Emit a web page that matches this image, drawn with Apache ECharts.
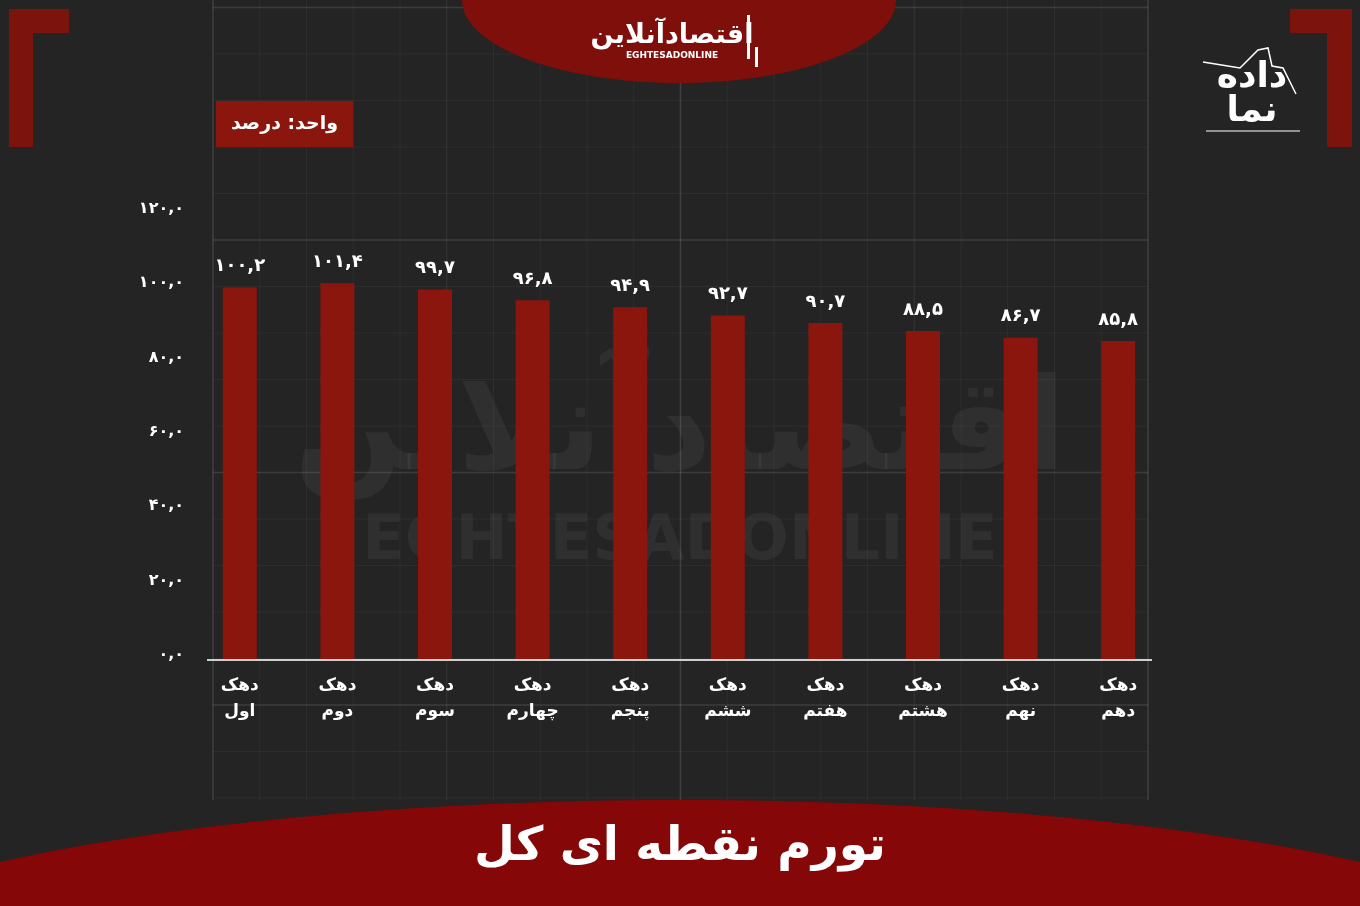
<!DOCTYPE html>
<html>
<head>
<meta charset="utf-8">
<script src="https://cdn.jsdelivr.net/npm/echarts@6/dist/echarts.min.js"></script>
<style>
html,body{margin:0;padding:0;background:#242424;}
#chart{width:1360px;height:906px;}
</style>
</head>
<body>
<div id="chart"></div>
<script>
const categories = ['دهک\nاول','دهک\nدوم','دهک\nسوم','دهک\nچهارم','دهک\nپنجم','دهک\nششم','دهک\nهفتم','دهک\nهشتم','دهک\nنهم','دهک\nدهم'];
const values = [100.2, 101.4, 99.7, 96.8, 94.9, 92.7, 90.7, 88.5, 86.7, 85.8];
const yTickValues = [0, 20, 40, 60, 80, 100, 120];
const yTickLabels = ['۰,۰','۲۰,۰','۴۰,۰','۶۰,۰','۸۰,۰','۱۰۰,۰','۱۲۰,۰'];
const titleText = 'تورم نقطه ای کل';
const unitText = 'واحد: درصد';

const FONT = 'DejaVu Sans';
const RED = '#8a160d';

function toFa(v) {
  return v.toFixed(1).replace('.', ',').replace(/\d/g, d => '۰۱۲۳۴۵۶۷۸۹'[+d]);
}

// background decorative grid
const deco = [];
const gx0 = 213, gx1 = 1148, gy0 = 0, gy1 = 800;
const step = 46.75;
for (let i = 0; i <= 20; i++) {
  const x = gx0 + i * step;
  const major = i % 10 === 0;
  const mid = i % 5 === 0;
  deco.push({type:'line', z:0, silent:true, shape:{x1:x, y1:gy0, x2:x, y2:gy1},
    style:{stroke: major ? 'rgba(255,255,255,0.13)' : (mid ? 'rgba(255,255,255,0.08)' : 'rgba(255,255,255,0.045)'), lineWidth: major ? 1.5 : 1}});
}
for (let j = -5; j <= 12; j++) {
  const y = 240 + j * 46.5;
  if (y < 0 || y > gy1) continue;
  const major = ((j % 5) + 5) % 5 === 0;
  deco.push({type:'line', z:0, silent:true, shape:{x1:gx0, y1:y, x2:gx1, y2:y},
    style:{stroke: major ? 'rgba(255,255,255,0.11)' : 'rgba(255,255,255,0.045)', lineWidth: major ? 1.5 : 1}});
}

const chart = echarts.init(document.getElementById('chart'), null, {renderer:'canvas'});
chart.setOption({
  backgroundColor: '#242424',
  animation: false,
  grid: { left: 191, right: 193, top: 214, bottom: 246, containLabel: false },
  xAxis: {
    type: 'category',
    data: categories,
    axisLine: { show: false },
    axisTick: { show: false },
    axisLabel: {
      color: '#ffffff', fontFamily: FONT, fontSize: 17, fontWeight: 'bold',
      lineHeight: 26, margin: 13, interval: 0
    }
  },
  yAxis: {
    type: 'value', min: 0, max: 120, interval: 20,
    axisLine: { show: false }, axisTick: { show: false },
    splitLine: { show: false },
    axisLabel: {
      color: '#ffffff', fontFamily: FONT, fontSize: 16, fontWeight: 'bold', margin: 7,
      verticalAlign: 'bottom', lineHeight: 10,
      formatter: v => yTickLabels[yTickValues.indexOf(v)]
    }
  },
  series: [{
    type: 'bar',
    data: values,
    barWidth: 34,
    z: 5,
    itemStyle: { color: RED },
    label: {
      show: true, position: 'top', distance: 12,
      color: '#ffffff', fontFamily: FONT, fontSize: 18, fontWeight: 'bold',
      formatter: p => toFa(p.value)
    }
  }],
  graphic: [
    ...deco,
    // watermark
    {type:'text', z:1, silent:true, left:'center', top:372,
      style:{text:'اقتصادآنلاین', font:'bold 128px "' + FONT + '"', fill:'rgba(255,255,255,0.05)'}},
    {type:'text', z:1, silent:true, left:'center', top:512,
      style:{text:'EGHTESADONLINE', font:'bold 62px "' + FONT + '"', fill:'rgba(255,255,255,0.05)'}},
    // x axis line
    {type:'line', z:10, silent:true, shape:{x1:207, y1:660, x2:1152, y2:660},
      style:{stroke:'#cfcfcf', lineWidth:2}},
    // corner brackets
    {type:'polygon', z:3, silent:true, shape:{points:[[9,9],[69,9],[69,33],[33,33],[33,147],[9,147]]}, style:{fill:'#7d130d'}},
    {type:'polygon', z:3, silent:true, shape:{points:[[1290,9],[1352,9],[1352,147],[1327,147],[1327,33],[1290,33]]}, style:{fill:'#7d130d'}},
    // top ellipse logo
    {type:'ellipse', z:3, silent:true, shape:{cx:679, cy:0, rx:217, ry:83}, style:{fill:'#7f0f0b'}},
    {type:'text', z:4, silent:true, x:672, y:36,
      style:{text:'اقتصادآنلاین', font:'bold 27px "' + FONT + '"', fill:'#ffffff', align:'center', verticalAlign:'middle'}},
    {type:'text', z:4, silent:true, x:672, y:56,
      style:{text:'EGHTESADONLINE', font:'bold 9px "' + FONT + '"', fill:'#ffffff', align:'center', verticalAlign:'middle'}},
    {type:'rect', z:4, silent:true, shape:{x:747, y:15, width:3, height:44}, style:{fill:'#ffffff'}},
    {type:'rect', z:4, silent:true, shape:{x:755, y:47, width:3, height:20}, style:{fill:'#ffffff'}},
    // right logo
    {type:'text', z:4, silent:true, x:1252, y:78,
      style:{text:'داده', font:'bold 36px "' + FONT + '"', fill:'#ffffff', align:'center', verticalAlign:'middle'}},
    {type:'text', z:4, silent:true, x:1252, y:112,
      style:{text:'نما', font:'bold 36px "' + FONT + '"', fill:'#ffffff', align:'center', verticalAlign:'middle'}},
    {type:'line', z:4, silent:true, shape:{x1:1206, y1:131, x2:1300, y2:131}, style:{stroke:'#ffffff', lineWidth:1}},
    {type:'polyline', z:4, silent:true, shape:{points:[[1203,62],[1240,68],[1258,50],[1268,48],[1272,66],[1283,68],[1296,94]]}, style:{stroke:'#ffffff', lineWidth:1.5, fill:null}},
    // unit box
    {type:'rect', z:4, silent:true, shape:{x:216, y:101, width:137, height:46}, style:{fill:'#8a160d'}},
    {type:'text', z:5, silent:true, x:284.5, y:124,
      style:{text:unitText, font:'bold 19px "' + FONT + '"', fill:'#ffffff', align:'center', verticalAlign:'middle'}},
    // bottom title band
    {type:'ellipse', z:20, silent:true, shape:{cx:680, cy:1000, rx:940, ry:200}, style:{fill:'#850707'}},
    {type:'text', z:21, silent:true, x:680, y:848,
      style:{text:titleText, font:'bold 47px "' + FONT + '"', fill:'#ffffff', align:'center', verticalAlign:'middle'}}
  ]
});
</script>
</body>
</html>
